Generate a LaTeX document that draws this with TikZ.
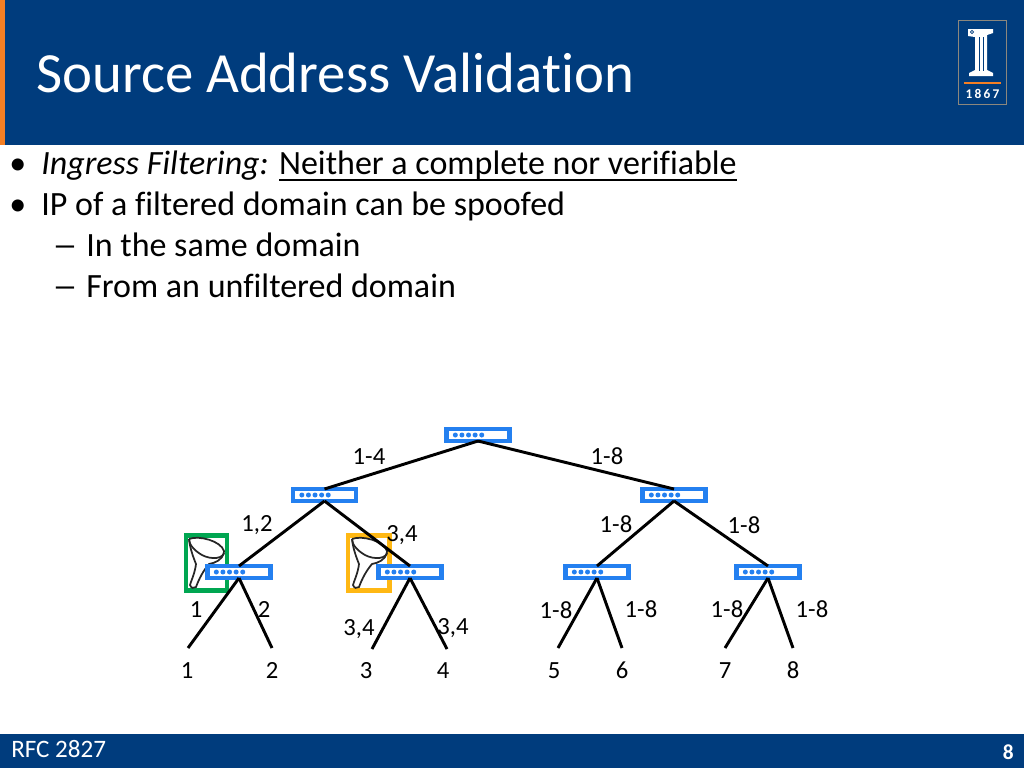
\documentclass[tikz,border=0pt]{standalone}
\usepackage{fontspec}
\setmainfont[Ligatures=CommonOff]{Carlito}
\usetikzlibrary{positioning,calc}
\definecolor{uiNavy}{RGB}{0,60,125}
\definecolor{uiOrange}{RGB}{244,127,36}
\definecolor{routerBlue}{RGB}{36,128,240}
\definecolor{boxGreen}{RGB}{0,166,81}
\definecolor{boxYellow}{RGB}{255,184,20}
\definecolor{logoGrey}{RGB}{140,135,125}
\tikzset{
  router/.style={draw=routerBlue,line width=3.3pt,fill=white,minimum width=47.5pt,minimum height=9pt,inner sep=0pt,outer sep=0pt},
  link/.style={line width=2.2pt,black},
  lbl/.style={font=\fontsize{18.5}{20}\selectfont,inner sep=0pt,text height=11.6pt,text depth=0pt},
  bodyline/.style={font=\fontsize{25.5}{28}\selectfont,anchor=base west,inner sep=0pt},
  filterbox/.style={line width=3.3pt,fill=white},
  funnelline/.style={line width=1.3pt,black!85}
}
\newcommand{\heavyline}[1]{\vtop{\hbox{\smash{#1}}\kern3.6pt\hrule height 1.4pt}}
\newcommand{\longdash}{\scalebox{1.5}[1]{–}}
% router with its five dots
\newcommand{\routernode}[2]{
  \node[router] (#1) at (#2) {};
  \foreach \i in {0,...,4}
    \fill[routerBlue] ($(#1.west)+(9+6.6*\i,0)$) circle (2.5);
}
% hand drawn funnel, (#1) is the top left of the box
\newcommand{\funnelicon}[1]{
  \begin{scope}[shift={(#1)}]
    \draw[funnelline] (4,6) .. controls (14,2) and (36,8) .. (39,18) .. controls (40,26) and (26,27) .. (17,22) .. controls (10,18) and (4,12) .. (4,6);
    \draw[funnelline] (4,6) .. controls (5,16) and (9,26) .. (11,31) .. controls (10,40) and (6,48) .. (5,52) .. controls (6,55) and (9,56) .. (11,54) .. controls (14,46) and (18,38) .. (24,31) .. controls (30,30) and (37,27) .. (39,20);
  \end{scope}
}

\begin{document}
\begin{tikzpicture}[x=0.75pt,y=-0.75pt]
  \useasboundingbox (0,0) rectangle (1024,768);
  % Header and footer
  \fill[uiNavy] (0,0) rectangle (1024,145);
  \fill[uiOrange] (0,0) rectangle (5,145);
  \fill[uiNavy] (0,734) rectangle (1024,768);
  \node[font=\fontsize{42.6}{46}\selectfont,white,anchor=base west,inner sep=0pt] (title) at (36,92) {Source Address Validation};
  \node[font=\fontsize{18.8}{20}\selectfont,white,anchor=base west,inner sep=0pt] (rfc) at (11,757) {RFC 2827};
  \node[font=\fontsize{16}{18}\selectfont\bfseries,white,anchor=base east,inner sep=0pt] (page) at (1014,759) {8};

  % Logo
  \draw[logoGrey,line width=1pt] (958.5,20.5) rectangle (1006.5,104.5);
  \fill[white] (968,29) -- (993,29) -- (993,33) -- (987,35) -- (987,70) -- (993,73) -- (993,76) -- (969,76) -- (969,73) -- (975,70) -- (975,37) -- (968,36) -- cycle;
  \draw[uiNavy,line width=0.5pt] (979,37) -- (979,71) (983,37) -- (983,71);
  \draw[uiNavy,line width=0.5pt] (972,32) circle (1.6);
  \draw[uiOrange,line width=1pt] (964,83) -- (1001,83);
  \node[font=\fontsize{10}{11}\selectfont\bfseries,white,inner sep=0pt] (year) at (982.5,94) {1\,8\,6\,7};

  % Bullets
  \node[bodyline] (b1) at (9,174) {•};
  \node[bodyline] (t1) at (41,174) {\textit{Ingress Filtering:} \heavyline{Neither a complete nor verifiable}};
  \node[bodyline] (b2) at (9,215) {•};
  \node[bodyline] (t2) at (41,215) {IP of a filtered domain can be spoofed};
  \node[bodyline] (b3) at (52,256) {\longdash};
  \node[bodyline] (t3) at (86,256) {In the same domain};
  \node[bodyline] (b4) at (52,297) {\longdash};
  \node[bodyline] (t4) at (86,297) {From an unfiltered domain};

  % Filters
  \draw[filterbox,draw=boxGreen] (186,535.5) rectangle (227,590.5);
  \funnelicon{185,533}
  \draw[filterbox,draw=boxYellow] (348,535.5) rectangle (389.5,590.5);
  \funnelicon{348,533}

  % Leaf ends
  \coordinate (l1) at (188,648);
  \coordinate (l2) at (272,648);
  \coordinate (l3) at (372,649);
  \coordinate (l4) at (447,649);
  \coordinate (l5) at (558,648);
  \coordinate (l6) at (622,648);
  \coordinate (l7) at (725,648);
  \coordinate (l8) at (793,648);

  % Links go under the routers
  \coordinate (rt) at (478,435);
  \coordinate (ra) at (324.5,495);
  \coordinate (rb) at (674,495);
  \coordinate (rc) at (239,572);
  \coordinate (rd) at (410,572);
  \coordinate (re) at (597,572);
  \coordinate (rf) at (768,572);

  \routernode{root}{rt}
  \routernode{ra1}{ra}
  \routernode{rb1}{rb}
  \routernode{rc1}{rc}
  \routernode{rd1}{rd}
  \routernode{re1}{re}
  \routernode{rf1}{rf}

  \draw[link] (root.south) -- (ra1.north);
  \draw[link] (root.south) -- (rb1.north);
  \draw[link] (ra1.south) -- (rc1.north);
  \draw[link] (ra1.south) -- (rd1.north);
  \draw[link] (rb1.south) -- (re1.north);
  \draw[link] (rb1.south) -- (rf1.north);
  \draw[link] (rc1.south) -- (l1);
  \draw[link] (rc1.south) -- (l2);
  \draw[link] (rd1.south) -- (l3);
  \draw[link] (rd1.south) -- (l4);
  \draw[link] (re1.south) -- (l5);
  \draw[link] (re1.south) -- (l6);
  \draw[link] (rf1.south) -- (l7);
  \draw[link] (rf1.south) -- (l8);

  % Link labels
  \node[lbl] (e1) at (369,457) {1-4};
  \node[lbl] (e2) at (607,457) {1-8};
  \node[lbl] (e3) at (257,524) {1,2};
  \node[lbl] (e4) at (402,534) {3,4};
  \node[lbl] (e5) at (616,525) {1-8};
  \node[lbl] (e6) at (744,526) {1-8};
  \node[lbl] (e7) at (196,610) {1};
  \node[lbl] (e8) at (264,610) {2};
  \node[lbl] (e9) at (359,628) {3,4};
  \node[lbl] (e10) at (453,627) {3,4};
  \node[lbl] (e11) at (556,611) {1-8};
  \node[lbl] (e12) at (641,610) {1-8};
  \node[lbl] (e13) at (727,610) {1-8};
  \node[lbl] (e14) at (812,610) {1-8};

  % Leaf labels
  \node[lbl] (n1) at (187,671) {1};
  \node[lbl] (n2) at (272,671) {2};
  \node[lbl] (n3) at (366,671) {3};
  \node[lbl] (n4) at (443,671) {4};
  \node[lbl] (n5) at (554,671) {5};
  \node[lbl] (n6) at (622,671) {6};
  \node[lbl] (n7) at (725,671) {7};
  \node[lbl] (n8) at (793,671) {8};
\end{tikzpicture}
\end{document}
